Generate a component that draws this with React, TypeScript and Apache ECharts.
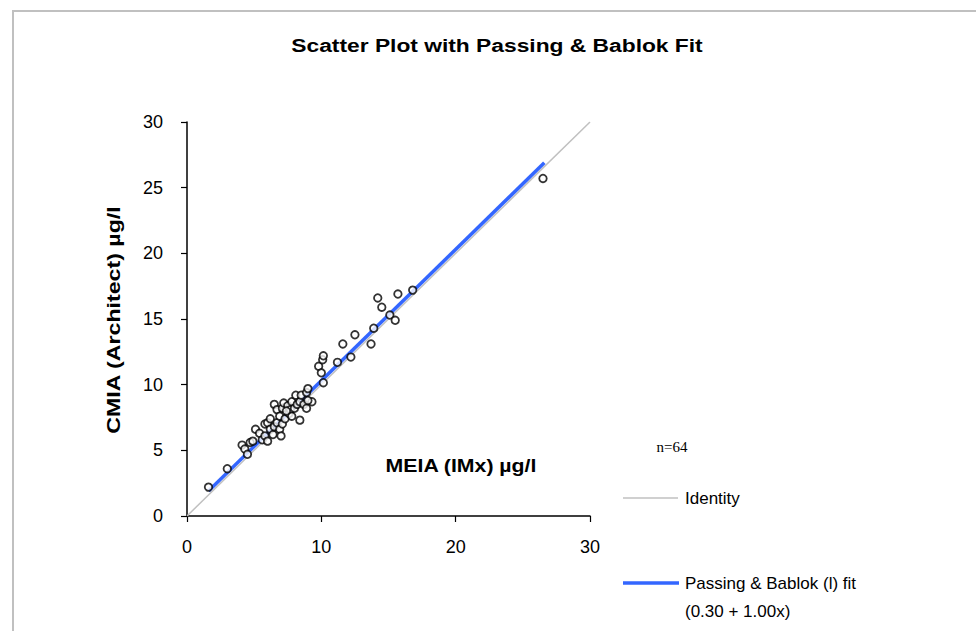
import React, { useEffect, useRef } from "react";
import * as echarts from "echarts";

const titleText = "Scatter Plot with Passing & Bablok Fit";
const xAxisName = "MEIA (IMx) µg/l";
const yAxisName = "CMIA (Architect) µg/l";
const nLabel = "n=64";
const identityLabel = "Identity";
const fitLabel = "Passing & Bablok (l) fit";
const fitEquation = "(0.30 + 1.00x)";

const xTicks = [0, 10, 20, 30];
const yTicks = [0, 5, 10, 15, 20, 25, 30];

// Measured pairs [MEIA, CMIA]
const points: [number, number][] = [
  [1.6, 2.2], [3.0, 3.6], [4.1, 5.4], [4.3, 5.1], [4.5, 4.7], [4.7, 5.6],
  [4.9, 5.7], [5.1, 6.6], [5.4, 6.3], [5.6, 5.8], [5.8, 6.1], [5.8, 7.0],
  [6.0, 5.7], [6.0, 7.1], [6.2, 6.6], [6.2, 7.4], [6.4, 6.2], [6.5, 8.5],
  [6.5, 6.8], [6.7, 8.1], [6.7, 7.1], [6.9, 6.6], [6.9, 7.6], [7.0, 6.1],
  [7.1, 7.0], [7.1, 8.2], [7.2, 8.6], [7.3, 7.4], [7.5, 8.4], [7.6, 7.8],
  [7.7, 8.1], [7.8, 7.6], [7.8, 8.7], [8.0, 8.2], [8.1, 9.2], [8.2, 8.5],
  [8.4, 7.3], [8.4, 8.7], [8.5, 9.2], [8.7, 8.5], [8.9, 8.2], [8.9, 9.4],
  [9.0, 9.7], [9.3, 8.7], [9.0, 8.8], [9.8, 11.4], [10.0, 10.9], [10.1, 11.9],
  [10.15, 12.2], [10.15, 10.15], [11.2, 11.7], [11.6, 13.1], [12.2, 12.1], [12.5, 13.8],
  [13.7, 13.1], [13.9, 14.3], [14.2, 16.6], [14.5, 15.9], [15.1, 15.3], [15.5, 14.9],
  [15.7, 16.9], [16.8, 17.2], [26.5, 25.7], [7.4, 8.0],
];

// Passing & Bablok fit line endpoints (0.30 + 1.00x)
const fitLine: [number, number][] = [[1.6, 1.9], [26.6, 26.9]];
// Identity line endpoints
const identityLine: [number, number][] = [[0, 0], [30, 30]];

const FONT = "Arial, 'Liberation Sans', sans-serif";

export default function App() {
  const ref = useRef<HTMLDivElement>(null);
  useEffect(() => {
    if (!ref.current) return;
    const chart = echarts.init(ref.current, undefined, { renderer: "svg" });
    chart.setOption({
      animation: false,
      backgroundColor: "#ffffff",
      grid: { left: 187, right: 386, top: 122, bottom: 115 },
      xAxis: {
        type: "value",
        min: xTicks[0],
        max: xTicks[xTicks.length - 1],
        interval: 10,
        axisLine: { show: true, onZero: false, lineStyle: { color: "#000", width: 1.5 } },
        axisTick: { show: true, length: 6, lineStyle: { color: "#000", width: 1.2 } },
        axisLabel: { margin: 22, fontFamily: FONT, fontSize: 18, color: "#000" },
        splitLine: { show: false },
      },
      yAxis: {
        type: "value",
        min: yTicks[0],
        max: yTicks[yTicks.length - 1],
        interval: 5,
        axisLine: { show: true, onZero: false, lineStyle: { color: "#000", width: 1.5 } },
        axisTick: { show: true, length: 6, lineStyle: { color: "#000", width: 1.2 } },
        axisLabel: { margin: 24, fontFamily: FONT, fontSize: 18, color: "#000" },
        splitLine: { show: false },
      },
      series: [
        {
          type: "line",
          name: identityLabel,
          data: identityLine,
          symbol: "none",
          lineStyle: { color: "#c0c0c0", width: 1.5 },
          z: 1,
        },
        {
          type: "line",
          name: fitLabel,
          data: fitLine,
          symbol: "none",
          lineStyle: { color: "#3366ff", width: 3.5 },
          z: 2,
        },
        {
          type: "scatter",
          data: points,
          symbol: "circle",
          symbolSize: 7.5,
          itemStyle: { color: "#ffffff", borderColor: "#000", borderWidth: 1.8 },
          z: 3,
        },
      ],
      graphic: [
        { type: "line", shape: { x1: 13, y1: 11, x2: 976, y2: 11 }, style: { stroke: "#c0c0c0", lineWidth: 2 } },
        { type: "line", shape: { x1: 13, y1: 10, x2: 13, y2: 631 }, style: { stroke: "#c0c0c0", lineWidth: 2 } },
        {
          type: "text",
          x: 497,
          y: 45,
          scaleX: 1.2,
          style: {
            text: titleText,
            fontFamily: FONT,
            fontSize: 19,
            fontWeight: "bold",
            fill: "#000",
            align: "center",
            verticalAlign: "middle",
          },
        },
        {
          type: "text",
          x: 113,
          y: 320,
          rotation: Math.PI / 2,
          scaleX: 1.22,
          style: {
            text: yAxisName,
            fontFamily: FONT,
            fontSize: 19,
            fontWeight: "bold",
            fill: "#000",
            align: "center",
            verticalAlign: "middle",
          },
        },
        {
          type: "text",
          x: 461,
          y: 465,
          scaleX: 1.12,
          style: {
            text: xAxisName,
            fontFamily: FONT,
            fontSize: 19,
            fontWeight: "bold",
            fill: "#000",
            align: "center",
            verticalAlign: "middle",
          },
        },
        {
          type: "text",
          x: 672,
          y: 447,
          style: {
            text: nLabel,
            fontFamily: "'Liberation Serif', 'DejaVu Serif', serif",
            fontSize: 15,
            fill: "#000",
            align: "center",
            verticalAlign: "middle",
          },
        },
        { type: "line", shape: { x1: 623, y1: 498, x2: 678, y2: 498 }, style: { stroke: "#c0c0c0", lineWidth: 1.5 } },
        {
          type: "text",
          x: 685,
          y: 498,
          style: { text: identityLabel, fontFamily: FONT, fontSize: 17, fill: "#000", align: "left", verticalAlign: "middle" },
        },
        { type: "line", shape: { x1: 623, y1: 583, x2: 679, y2: 583 }, style: { stroke: "#3366ff", lineWidth: 3.5 } },
        {
          type: "text",
          x: 685,
          y: 583,
          style: { text: fitLabel, fontFamily: FONT, fontSize: 17, fill: "#000", align: "left", verticalAlign: "middle" },
        },
        {
          type: "text",
          x: 685,
          y: 611,
          style: { text: fitEquation, fontFamily: FONT, fontSize: 17, fill: "#000", align: "left", verticalAlign: "middle" },
        },
      ],
    });
    return () => chart.dispose();
  }, []);
  return (
    <div
      ref={ref}
      style={{ position: "absolute", left: 0, top: 0, width: 976, height: 631 }}
    />
  );
}
